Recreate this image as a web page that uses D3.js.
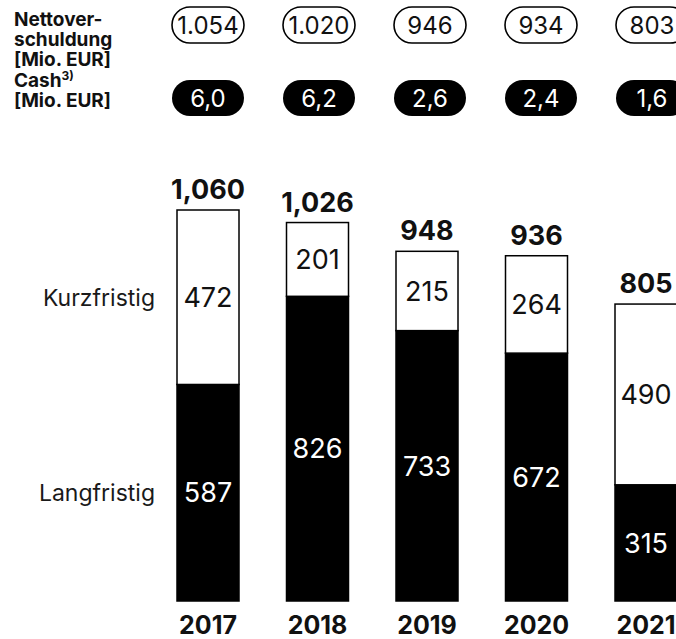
<!DOCTYPE html>
<html>
<head>
<meta charset="utf-8">
<script src="https://cdn.jsdelivr.net/npm/d3@7"></script>
<style>
  body { margin: 0; background: #fff; }
  svg { display: block; font-family: Inter, "Noto Sans", sans-serif; }
</style>
</head>
<body>
<div class="chart"></div>
<script>
//Data
var years = ["2017", "2018", "2019", "2020", "2021"];
var shortTerm = [472, 201, 215, 264, 490];
var longTerm = [587, 826, 733, 672, 315];
var totals = [1060, 1026, 948, 936, 805];
var netDebt = [1054, 1020, 946, 934, 803];
var cash = [6.0, 6.2, 2.6, 2.4, 1.6];

//Width and height
var w = 676;
var h = 639;

var svg = d3.select(".chart")
    .append("svg")
    .attr("width", w)
    .attr("height", h);

//German number formats for the pills, English for totals
var de = d3.formatLocale({ decimal: ",", thousands: ".", grouping: [3], currency: ["", " €"] });
var fmtDebt = de.format(",");
var fmtCash = de.format(",.1f");
var fmtTotal = d3.format(",");

//Scales (bar centres and pill centres)
var xScale = d3.scalePoint()
    .domain(years)
    .range([208, 646]);

var pillScale = d3.scalePoint()
    .domain(years)
    .range([208, 652]);

var yScale = d3.scaleLinear()
    .domain([0, 1060])
    .range([601, 210]);

var bw = 62;

//Header labels
var head = svg.append("text")
    .attr("font-size", 19)
    .attr("font-weight", 700)
    .attr("fill", "#111");
["Nettover-", "schuldung", "[Mio. EUR]"].forEach((t, i) => {
    head.append("tspan").attr("x", 14).attr("y", 26 + i * 20).text(t);
});
var head2 = svg.append("text")
    .attr("font-size", 19)
    .attr("font-weight", 700)
    .attr("fill", "#111");
head2.append("tspan").attr("x", 14).attr("y", 87).text("Cash");
head2.append("tspan").attr("dy", -7).attr("font-size", 12).text("3)");
head2.append("tspan").attr("x", 14).attr("y", 107).text("[Mio. EUR]");

//Pills
var pw = 72, ph = 36;
svg.selectAll(".debt")
    .data(netDebt)
    .enter()
    .append("rect")
    .attr("class", "debt")
    .attr("x", (d, i) => pillScale(years[i]) - pw / 2)
    .attr("y", 7)
    .attr("width", pw)
    .attr("height", ph)
    .attr("rx", ph / 2)
    .attr("fill", "#fff")
    .attr("stroke", "#000")
    .attr("stroke-width", 1.6);
svg.selectAll(".debtText")
    .data(netDebt)
    .enter()
    .append("text")
    .attr("x", (d, i) => pillScale(years[i]))
    .attr("y", 25)
    .attr("dy", "0.36em")
    .attr("text-anchor", "middle")
    .attr("font-size", 24)
    .attr("fill", "#111")
    .text((d) => fmtDebt(d));

svg.selectAll(".cash")
    .data(cash)
    .enter()
    .append("rect")
    .attr("class", "cash")
    .attr("x", (d, i) => pillScale(years[i]) - pw / 2)
    .attr("y", 80)
    .attr("width", pw)
    .attr("height", ph)
    .attr("rx", ph / 2)
    .attr("fill", "#000");
svg.selectAll(".cashText")
    .data(cash)
    .enter()
    .append("text")
    .attr("x", (d, i) => pillScale(years[i]))
    .attr("y", 98)
    .attr("dy", "0.36em")
    .attr("text-anchor", "middle")
    .attr("font-size", 24)
    .attr("fill", "#fff")
    .text((d) => fmtCash(d));

//Bars: long term (black) at the bottom, short term (white) on top
svg.selectAll(".long")
    .data(longTerm)
    .enter()
    .append("rect")
    .attr("x", (d, i) => xScale(years[i]) - bw / 2)
    .attr("y", (d) => yScale(d))
    .attr("width", bw)
    .attr("height", (d) => yScale(0) - yScale(d))
    .attr("fill", "#000")
    .attr("stroke", "#000")
    .attr("stroke-width", 1.5);

svg.selectAll(".short")
    .data(shortTerm)
    .enter()
    .append("rect")
    .attr("x", (d, i) => xScale(years[i]) - bw / 2)
    .attr("y", (d, i) => yScale(totals[i]))
    .attr("width", bw)
    .attr("height", (d, i) => yScale(longTerm[i]) - yScale(totals[i]))
    .attr("fill", "#fff")
    .attr("stroke", "#000")
    .attr("stroke-width", 1.5);

//Segment labels
svg.selectAll(".longText")
    .data(longTerm)
    .enter()
    .append("text")
    .attr("x", (d, i) => xScale(years[i]))
    .attr("y", (d) => (yScale(d) + yScale(0)) / 2)
    .attr("dy", "0.36em")
    .attr("text-anchor", "middle")
    .attr("font-size", 27)
    .attr("fill", "#fff")
    .text((d) => d);

svg.selectAll(".shortText")
    .data(shortTerm)
    .enter()
    .append("text")
    .attr("x", (d, i) => xScale(years[i]))
    .attr("y", (d, i) => (yScale(totals[i]) + yScale(longTerm[i])) / 2)
    .attr("dy", "0.36em")
    .attr("text-anchor", "middle")
    .attr("font-size", 27)
    .attr("fill", "#111")
    .text((d) => d);

//Totals
svg.selectAll(".total")
    .data(totals)
    .enter()
    .append("text")
    .attr("x", (d, i) => xScale(years[i]))
    .attr("y", (d) => yScale(d) - 11)
    .attr("text-anchor", "middle")
    .attr("font-size", 27)
    .attr("font-weight", 700)
    .attr("fill", "#111")
    .text((d) => fmtTotal(d));

//Years
svg.selectAll(".year")
    .data(years)
    .enter()
    .append("text")
    .attr("x", (d) => xScale(d))
    .attr("y", 634)
    .attr("text-anchor", "middle")
    .attr("font-size", 25)
    .attr("font-weight", 700)
    .attr("fill", "#111")
    .text((d) => d);

//Row labels, aligned with the first bar's segments
svg.append("text")
    .attr("x", 155)
    .attr("y", (yScale(totals[0]) + yScale(longTerm[0])) / 2)
    .attr("dy", "0.36em")
    .attr("text-anchor", "end")
    .attr("font-size", 23)
    .attr("fill", "#1a1a1a")
    .text("Kurzfristig");
svg.append("text")
    .attr("x", 155)
    .attr("y", (yScale(longTerm[0]) + yScale(0)) / 2)
    .attr("dy", "0.36em")
    .attr("text-anchor", "end")
    .attr("font-size", 23)
    .attr("fill", "#1a1a1a")
    .text("Langfristig");
</script>
</body>
</html>
